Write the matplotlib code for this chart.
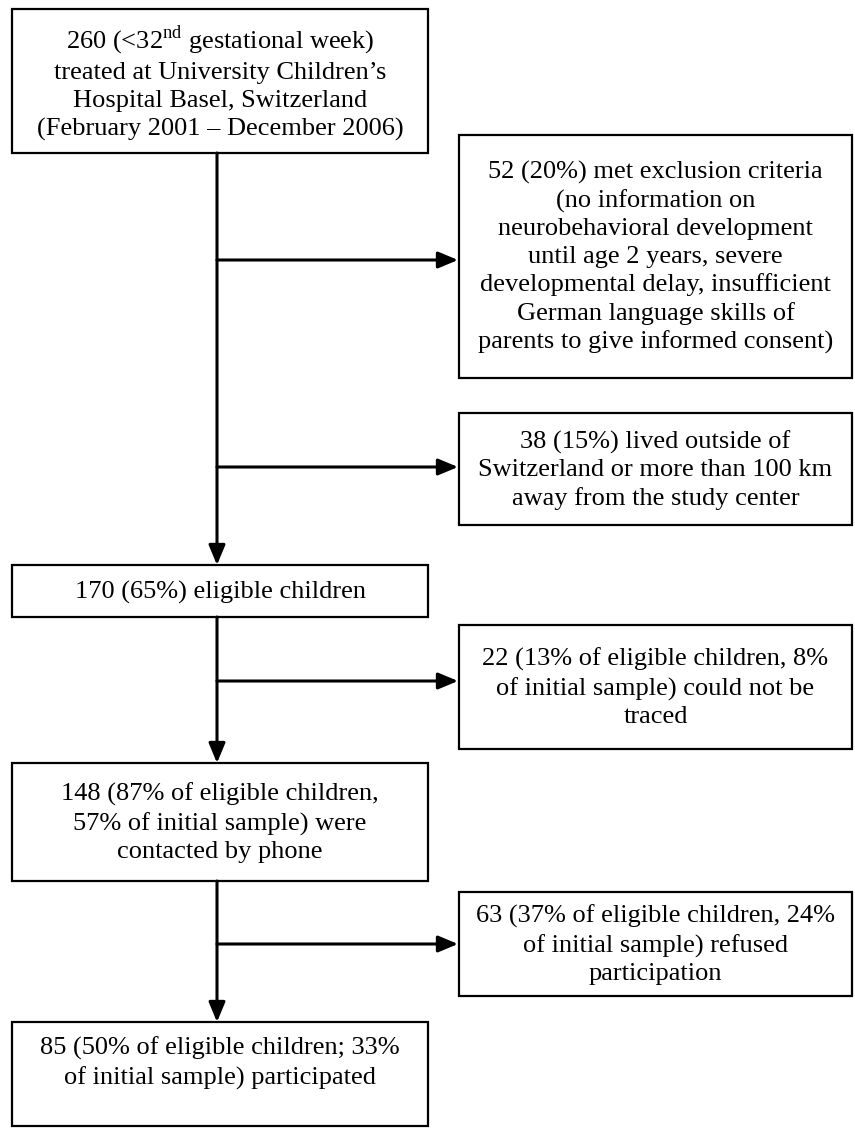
import matplotlib
matplotlib.use("Agg")
import matplotlib.pyplot as plt
from matplotlib.patches import Rectangle

plt.rcParams['font.family'] = ['Liberation Serif', 'DejaVu Serif']
plt.rcParams['mathtext.fontset'] = 'custom'
plt.rcParams['mathtext.rm'] = 'Liberation Serif'

# flowchart texts (counts)
main_texts = [
    "260 (<32$^{\\mathrm{nd}}$ gestational week)\ntreated at University Children\u2019s\nHospital Basel, Switzerland\n(February 2001 \u2013 December 2006)",
    "170 (65%) eligible children",
    "148 (87% of eligible children,\n57% of initial sample) were\ncontacted by phone",
    "85 (50% of eligible children; 33%\nof initial sample) participated",
]
side_texts = [
    "52 (20%) met exclusion criteria\n(no information on\nneurobehavioral development\nuntil age 2 years, severe\ndevelopmental delay, insufficient\nGerman language skills of\nparents to give informed consent)",
    "38 (15%) lived outside of\nSwitzerland or more than 100 km\naway from the study center",
    "22 (13% of eligible children, 8%\nof initial sample) could not be\ntraced",
    "63 (37% of eligible children, 24%\nof initial sample) refused\nparticipation",
]

# layout in pixels (top, bottom)
main_x = (12, 428)
main_y = [(9, 153), (565, 617), (763, 881), (1022, 1126)]
side_x = (459, 852)
side_y = [(135, 378), (413, 525), (625, 749), (892, 996)]
branch_y = [260, 467, 681, 944]
stem_x = 217

fig = plt.figure(figsize=(8.55, 11.28), dpi=100)
ax = fig.add_axes([0, 0, 1, 1])
ax.set_xlim(0, 855)
ax.set_ylim(1128, 0)
ax.axis('off')

fs = 19
ls = 1.32


def box(x0, x1, y0, y1, text, top=False):
    ax.add_patch(Rectangle((x0, y0), x1 - x0, y1 - y0, fill=False,
                           edgecolor='black', lw=1.6))
    if top:
        ax.text((x0 + x1) / 2, y0 + 15, text, ha='center', va='top',
                fontsize=fs, linespacing=ls)
    else:
        ax.text((x0 + x1) / 2, (y0 + y1) / 2 + 1, text, ha='center',
                va='center', fontsize=fs, linespacing=ls)


for i, (t, (y0, y1)) in enumerate(zip(main_texts, main_y)):
    box(main_x[0], main_x[1], y0, y1, t, top=(i == 3))
for t, (y0, y1) in zip(side_texts, side_y):
    box(side_x[0], side_x[1], y0, y1, t)

arrow = dict(arrowstyle='-|>,head_length=1.2,head_width=0.5', lw=2.2,
             color='black', shrinkA=0, shrinkB=0)

# vertical arrows between main boxes
for (a0, a1), (b0, b1) in zip(main_y[:-1], main_y[1:]):
    ax.annotate("", xy=(stem_x, b0), xytext=(stem_x, a1), arrowprops=arrow)

# horizontal branches to the side boxes
for y in branch_y:
    ax.annotate("", xy=(side_x[0] - 1, y), xytext=(stem_x, y), arrowprops=arrow)

fig.savefig("out.png", dpi=100)
